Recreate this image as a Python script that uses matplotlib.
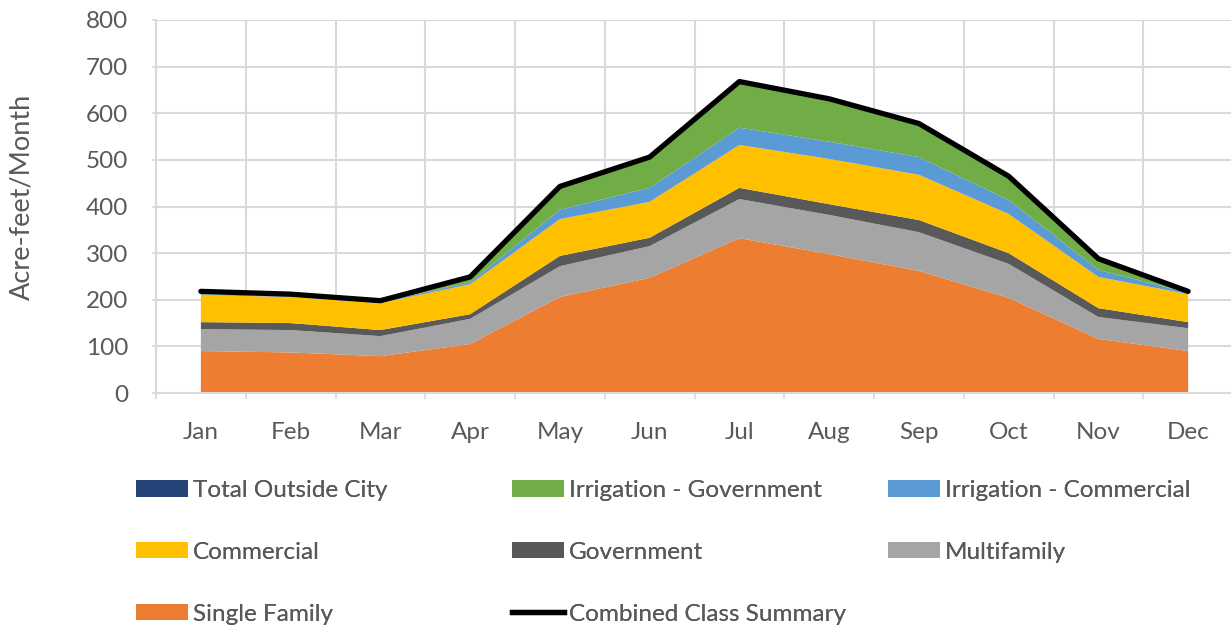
import matplotlib
matplotlib.use('Agg')
import matplotlib.pyplot as plt
from matplotlib.patches import Patch
from matplotlib.lines import Line2D
import numpy as np

# ── data (acre-feet / month) ────────────────────────────────────────────────
months = ['Jan', 'Feb', 'Mar', 'Apr', 'May', 'Jun', 'Jul', 'Aug', 'Sep', 'Oct', 'Nov', 'Dec']

single_family   = [90, 87, 79, 105, 206, 247, 332, 298, 262, 204, 116, 90]
multifamily     = [47, 48, 43, 54, 66, 68, 84, 84, 83, 73, 47, 49]
government      = [15, 15, 13, 10, 22, 18, 24, 23, 26, 23, 19, 13]
commercial      = [58, 56, 58, 64, 79, 77, 92, 97, 97, 84, 67, 60]
irr_commercial  = [2, 2, 2, 4, 20, 30, 37, 37, 38, 30, 15, 3]
irr_government  = [5, 4, 3, 12, 50, 66, 99, 92, 72, 51, 24, 3]
outside_city    = [0, 0, 0, 0, 0, 0, 0, 0, 0, 0, 0, 0]
combined        = [218, 212, 198, 249, 443, 506, 668, 631, 578, 465, 288, 218]

yticks = [0, 100, 200, 300, 400, 500, 600, 700, 800]

# ── style ───────────────────────────────────────────────────────────────────
plt.rcParams['font.family'] = ['Lato', 'DejaVu Sans']
txt = '#595959'
grid = '#d9d9d9'
fs = 17.5

c_sf, c_mf, c_gov, c_com = '#ED7D31', '#A5A5A5', '#595959', '#FFC000'
c_icom, c_igov, c_out = '#5B9BD5', '#70AD47', '#264478'

W, H = 1231, 629
fig = plt.figure(figsize=(W / 100, H / 100), dpi=100)
ax = fig.add_axes([156 / W, (H - 393) / H, (1233 - 156) / W, (393 - 20) / H])

x = np.arange(len(months))
ax.stackplot(x, single_family, multifamily, government, commercial,
             irr_commercial, irr_government, outside_city,
             colors=[c_sf, c_mf, c_gov, c_com, c_icom, c_igov, c_out],
             linewidth=0, zorder=2)
ax.plot(x, combined, color='black', linewidth=3.8, solid_capstyle='round',
        solid_joinstyle='round', zorder=3)

ax.set_xlim(-0.5, len(months) - 0.5)
ax.set_ylim(0, 800)
ax.set_yticks(yticks)
ax.set_xticks(x)
ax.set_xticklabels(months)
ax.set_xticks(np.arange(-0.5, len(months)), minor=True)

ax.grid(True, which='minor', axis='x', color=grid, linewidth=1.5, zorder=0)
ax.grid(True, which='major', axis='y', color=grid, linewidth=1.5, zorder=0)
ax.set_axisbelow(True)
for s in ['top', 'right']:
    ax.spines[s].set_visible(False)
for s in ['left', 'bottom']:
    ax.spines[s].set_color(grid)
    ax.spines[s].set_linewidth(1.5)

ax.tick_params(axis='x', which='major', length=0, pad=21, labelsize=fs, labelcolor=txt)
ax.tick_params(axis='x', which='minor', length=4, width=1.2, color=grid)
ax.tick_params(axis='y', length=3, width=1.2, color=grid, pad=17, labelsize=fs, labelcolor=txt)

ax.set_ylabel('Acre-feet/Month', fontsize=19.5, color=txt)
ax.yaxis.set_label_coords((34 - 156) / 1077, 0.527)

# ── legend: three fixed-width columns like the source ───────────────────────
def box(c):
    return Patch(facecolor=c, edgecolor='none')

cols = [
    (136, [box(c_out), box(c_com), box(c_sf)],
          ['Total Outside City', 'Commercial', 'Single Family']),
    (512, [box(c_igov), box(c_gov), Line2D([], [], color='black', linewidth=3.8)],
          ['Irrigation - Government', 'Government', 'Combined Class Summary']),
    (888, [box(c_icom), box(c_mf)],
          ['Irrigation - Commercial', 'Multifamily']),
]
for xpos, handles, labels in cols:
    leg = fig.legend(handles, labels, loc='upper left',
                     bbox_to_anchor=(xpos / W, (H - 480) / H),
                     frameon=False, fontsize=fs, labelcolor=txt,
                     handlelength=2.14, handleheight=0.66, handletextpad=0.2,
                     labelspacing=1.68, borderpad=0, borderaxespad=0)
    fig.add_artist(leg)

fig.savefig('out.png', dpi=100)
